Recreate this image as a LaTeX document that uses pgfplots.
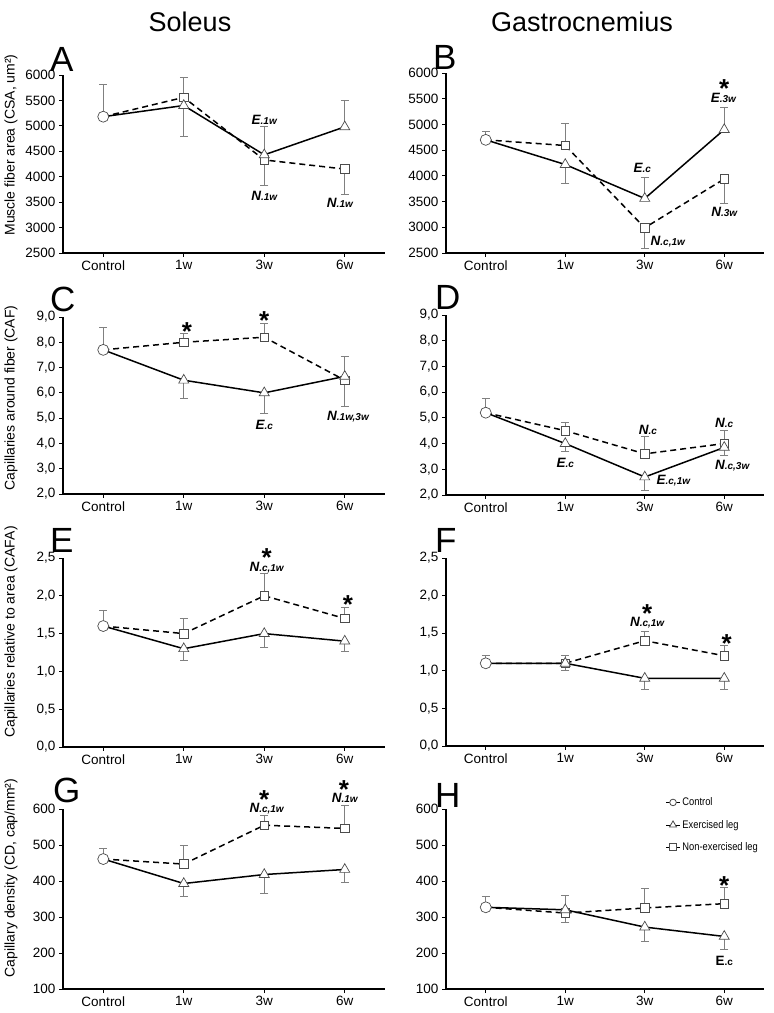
\documentclass[border=0pt]{standalone}
\usepackage{fontspec}
\setmainfont{Liberation Sans}
\newfontfamily\narrowfont[FakeStretch=0.85]{Liberation Sans}
\usepackage{pgfplots}
\pgfplotsset{compat=1.18}

\newcommand{\lab}[2]{{\bfseries\itshape\fontsize{13.5}{15}\selectfont #1\fontsize{10}{11}\selectfont #2}}
\tikzset{star/.style={anchor=base, yshift=-15pt, inner sep=0pt, font=\fontsize{26}{26}\selectfont\bfseries}}

\pgfplotsset{
 panel/.style={
  scale only axis, anchor=south west, clip=false,
  xmin=-0.5, xmax=3.5,
  axis lines=left, axis line style={-, line width=1.1pt},
  xtick={0,1,2,3}, xticklabels={Control,1w,3w,6w},
  tick style={black, line width=0.8pt},
  major tick length=4pt, tick align=outside,
  ticklabel style={font=\fontsize{13.5}{16}\selectfont},
  /pgf/number format/assume math mode=true,
 },
 ebar/.style={only marks, mark=none, forget plot,
  error bars/y dir=#1, error bars/y explicit,
  error bars/error bar style={draw=gray, line width=1pt},
  error bars/error mark options={rotate=90, draw=gray, line width=1pt, mark size=4pt}},
 nonex/.style={black, line width=1.5pt, dash pattern=on 6pt off 4pt, forget plot,
  mark=square*, mark indices={2,3,4}, mark size=4.3pt,
  mark options={solid, fill=white, draw=black!70, line width=0.7pt}},
 exer/.style={black, line width=1.5pt, forget plot,
  mark=triangle*, mark indices={2,3,4}, mark size=5.8pt,
  mark options={solid, fill=white, draw=black!70, line width=0.7pt}},
 ctrl/.style={only marks, forget plot, mark=*, mark size=5.5pt,
  mark options={fill=white, draw=black!70, line width=0.7pt}},
 comma1/.style={yticklabel style={/pgf/number format/.cd, fixed, fixed zerofill, precision=1, use comma}},
}

\begin{document}
\begin{tikzpicture}
\path[use as bounding box] (0,0) rectangle (774pt,1013pt);

% titles
\node[font=\fontsize{27}{30}\selectfont] at (190pt,991pt) {Soleus};
\node[font=\fontsize{27}{30}\selectfont] at (582pt,991pt) {Gastrocnemius};

% panel letters
\foreach \L/\x/\y in {A/50/941, B/433/943, C/50/701, D/435/703, E/50/460, F/435/460, G/53/210, H/435/205}
  \node[anchor=base west, inner sep=0pt, font=\fontsize{35}{35}\selectfont] at (\x pt,\y pt) {\L};

% y labels
\node[rotate=90, font=\fontsize{14}{16}\selectfont] at (11pt,868pt) {Muscle fiber area (CSA, um²)};
\node[rotate=90, font=\fontsize{14}{16}\selectfont] at (11pt,615pt) {Capillaries around fiber (CAF)};
\node[rotate=90, font=\fontsize{14}{16}\selectfont] at (11pt,381pt) {Capillaries relative to area (CAFA)};
\node[rotate=90, font=\fontsize{14}{16}\selectfont] at (11pt,135pt) {Capillary density (CD, cap/mm²)};

% ---------------- A ----------------
\begin{axis}[panel, at={(63pt,760pt)}, width=322pt, height=178pt,
  ymin=2500, ymax=6000, ytick={2500,3000,...,6000},
  yticklabel style={/pgf/number format/1000 sep={}}]
\addplot[ebar=plus] coordinates {(0,5180) +- (0,640) (1,5560) +- (0,390) (2,4430) +- (0,560) (3,4980) +- (0,510)};
\addplot[ebar=minus] coordinates {(1,5400) +- (0,600) (2,4330) +- (0,510) (3,4150) +- (0,490)};
\addplot[nonex] coordinates {(0,5180) (1,5560) (2,4330) (3,4150)};
\addplot[exer] coordinates {(0,5180) (1,5400) (2,4430) (3,4980)};
\addplot[ctrl] coordinates {(0,5180)};
\node at (axis cs:2,5115) {\lab{E}{.1w}};
\node at (axis cs:2,3621) {\lab{N}{.1w}};
\node at (axis cs:2.94,3484) {\lab{N}{.1w}};
\end{axis}

% ---------------- B ----------------
\begin{axis}[panel, at={(446pt,760pt)}, width=318pt, height=180pt,
  ymin=2500, ymax=6000, ytick={2500,3000,...,6000},
  yticklabel style={/pgf/number format/1000 sep={}}]
\addplot[ebar=plus] coordinates {(0,4700) +- (0,165) (1,4590) +- (0,430) (2,3560) +- (0,400) (3,4900) +- (0,420)};
\addplot[ebar=minus] coordinates {(1,4220) +- (0,360) (2,2990) +- (0,410) (3,3940) +- (0,470)};
\addplot[nonex] coordinates {(0,4700) (1,4590) (2,2990) (3,3940)};
\addplot[exer] coordinates {(0,4700) (1,4220) (2,3560) (3,4900)};
\addplot[ctrl] coordinates {(0,4700)};
\node at (axis cs:1.97,4147) {\lab{E}{.c}};
\node at (axis cs:2.29,2720) {\lab{N}{.c,1w}};
\node[star] at (axis cs:3,5820) {*};
\node at (axis cs:2.99,5520) {\lab{E}{.3w}};
\node at (axis cs:3,3300) {\lab{N}{.3w}};
\end{axis}

% ---------------- C ----------------
\begin{axis}[panel, comma1, at={(63pt,519pt)}, width=322pt, height=177pt,
  ymin=2, ymax=9, ytick={2,3,...,9}]
\addplot[ebar=plus] coordinates {(0,7.7) +- (0,0.87) (1,8.0) +- (0,0.34) (2,8.2) +- (0,0.56) (3,6.65) +- (0,0.8)};
\addplot[ebar=minus] coordinates {(1,6.5) +- (0,0.73) (2,6.0) +- (0,0.83) (3,6.5) +- (0,1.02)};
\addplot[nonex] coordinates {(0,7.7) (1,8.0) (2,8.2) (3,6.5)};
\addplot[exer] coordinates {(0,7.7) (1,6.5) (2,6.0) (3,6.65)};
\addplot[ctrl] coordinates {(0,7.7)};
\node[star] at (axis cs:1.04,8.68) {*};
\node[star] at (axis cs:2.0,9.1) {*};
\node at (axis cs:2,4.73) {\lab{E}{.c}};
\node at (axis cs:3.04,5.05) {\lab{N}{.1w,3w}};
\end{axis}

% ---------------- D ----------------
\begin{axis}[panel, comma1, at={(446pt,518pt)}, width=318pt, height=180pt,
  ymin=2, ymax=9, ytick={2,3,...,9}]
\addplot[ebar=plus] coordinates {(0,5.2) +- (0,0.55) (1,4.5) +- (0,0.32) (2,3.6) +- (0,0.66) (3,4.0) +- (0,0.5)};
\addplot[ebar=minus] coordinates {(1,4.0) +- (0,0.3) (2,2.7) +- (0,0.52) (3,3.85) +- (0,0.33)};
\addplot[nonex] coordinates {(0,5.2) (1,4.5) (2,3.6) (3,4.0)};
\addplot[exer] coordinates {(0,5.2) (1,4.0) (2,2.7) (3,3.85)};
\addplot[ctrl] coordinates {(0,5.2)};
\node at (axis cs:1.0,3.24) {\lab{E}{.c}};
\node at (axis cs:2.04,4.53) {\lab{N}{.c}};
\node at (axis cs:2.36,2.54) {\lab{E}{.c,1w}};
\node at (axis cs:3.0,4.8) {\lab{N}{.c}};
\node at (axis cs:3.1,3.16) {\lab{N}{.c,3w}};
\end{axis}

% ---------------- E ----------------
\begin{axis}[panel, comma1, at={(63pt,266pt)}, width=322pt, height=189pt,
  ymin=0, ymax=2.5, ytick={0,0.5,...,2.5}]
\addplot[ebar=plus] coordinates {(0,1.6) +- (0,0.21) (1,1.5) +- (0,0.2) (2,2.0) +- (0,0.29) (3,1.7) +- (0,0.15)};
\addplot[ebar=minus] coordinates {(1,1.3) +- (0,0.15) (2,1.5) +- (0,0.19) (3,1.4) +- (0,0.14)};
\addplot[nonex] coordinates {(0,1.6) (1,1.5) (2,2.0) (3,1.7)};
\addplot[exer] coordinates {(0,1.6) (1,1.3) (2,1.5) (3,1.4)};
\addplot[ctrl] coordinates {(0,1.6)};
\node[star] at (axis cs:2.03,2.59) {*};
\node at (axis cs:2.03,2.37) {\lab{N}{.c,1w}};
\node[star] at (axis cs:3.04,1.96) {*};
\end{axis}

% ---------------- F ----------------
\begin{axis}[panel, comma1, at={(446pt,267pt)}, width=318pt, height=188pt,
  ymin=0, ymax=2.5, ytick={0,0.5,...,2.5}]
\addplot[ebar=plus] coordinates {(0,1.1) +- (0,0.1) (1,1.1) +- (0,0.1) (2,1.4) +- (0,0.12) (3,1.2) +- (0,0.14)};
\addplot[ebar=minus] coordinates {(1,1.1) +- (0,0.1) (2,0.9) +- (0,0.15) (3,0.9) +- (0,0.15)};
\addplot[nonex] coordinates {(0,1.1) (1,1.1) (2,1.4) (3,1.2)};
\addplot[exer] coordinates {(0,1.1) (1,1.1) (2,0.9) (3,0.9)};
\addplot[ctrl] coordinates {(0,1.1)};
\node[star] at (axis cs:2.03,1.84) {*};
\node at (axis cs:2.03,1.64) {\lab{N}{.c,1w}};
\node[star] at (axis cs:3.03,1.44) {*};
\end{axis}

% ---------------- G ----------------
\begin{axis}[panel, at={(63pt,24pt)}, width=322pt, height=180pt,
  ymin=100, ymax=600, ytick={100,200,...,600}]
\addplot[ebar=plus] coordinates {(0,461) +- (0,28) (1,447) +- (0,51) (2,555) +- (0,27) (3,546) +- (0,63)};
\addplot[ebar=minus] coordinates {(1,393) +- (0,36) (2,418) +- (0,54) (3,432) +- (0,37)};
\addplot[nonex] coordinates {(0,461) (1,447) (2,555) (3,546)};
\addplot[exer] coordinates {(0,461) (1,393) (2,418) (3,432)};
\addplot[ctrl] coordinates {(0,461)};
\node[star] at (axis cs:2.0,642) {*};
\node at (axis cs:2.03,602) {\lab{N}{.c,1w}};
\node[star] at (axis cs:2.99,670) {*};
\node at (axis cs:3.0,630) {\lab{N}{.1w}};
\end{axis}

% ---------------- H ----------------
\begin{axis}[panel, at={(446pt,24pt)}, width=318pt, height=180pt,
  ymin=100, ymax=600, ytick={100,200,...,600},
  legend image code/.code={\draw[mark repeat=2,mark phase=2,#1] plot coordinates {(0pt,0pt) (7pt,0pt) (14pt,0pt)};},
  legend style={at={(0.69,1.075)}, anchor=north west, draw=none, fill=none,
    font=\narrowfont\fontsize{11}{13}\selectfont, row sep=9pt, cells={anchor=west}, inner sep=0pt}]
\addplot[ebar=plus] coordinates {(0,327) +- (0,30) (1,320) +- (0,40) (2,325) +- (0,55) (3,337) +- (0,44)};
\addplot[ebar=minus] coordinates {(1,311) +- (0,26) (2,272) +- (0,40) (3,246) +- (0,35)};
\addplot[nonex] coordinates {(0,327) (1,311) (2,325) (3,337)};
\addplot[exer] coordinates {(0,327) (1,320) (2,272) (3,246)};
\addplot[ctrl] coordinates {(0,327)};
\node[star] at (axis cs:3.0,403) {*};
\node at (axis cs:3.0,178) {\bfseries\fontsize{13.5}{15}\selectfont E\fontsize{10}{11}\selectfont .c};
\addlegendimage{black, line width=0.8pt, mark=*, mark size=3.3pt, mark options={fill=white, draw=black!70}}
\addlegendentry{Control}
\addlegendimage{black, line width=0.8pt, mark=triangle*, mark size=4pt, mark options={fill=white, draw=black!70}}
\addlegendentry{Exercised leg}
\addlegendimage{black, line width=0.8pt, mark=square*, mark size=3.5pt, mark options={fill=white, draw=black!70}}
\addlegendentry{Non-exercised leg}
\end{axis}
\end{tikzpicture}
\end{document}
